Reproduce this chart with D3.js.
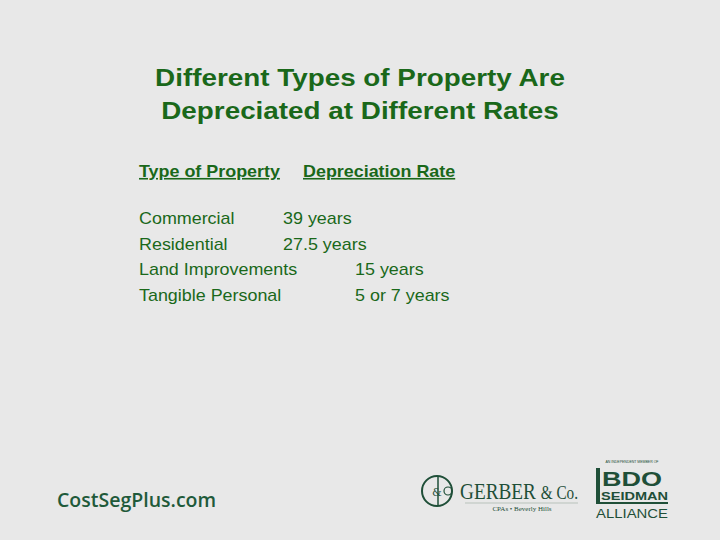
<!DOCTYPE html>
<html>
<head>
<meta charset="utf-8">
<script src="https://cdn.jsdelivr.net/npm/d3@7"></script>
<style>
  body { margin: 0; background: #e8e8e8; }
</style>
</head>
<body>
<svg id="slide" width="720" height="540"></svg>
<script>
/*
 * Data
 */
var titleLines = ['Different Types of Property Are', 'Depreciated at Different Rates'],
    headers = ['Type of Property', 'Depreciation Rate'],
    propertyTypes = ['Commercial', 'Residential', 'Land Improvements', 'Tangible Personal'],
    rates = ['39 years', '27.5 years', '15 years', '5 or 7 years'],
    rateColumn = [0, 0, 1, 1];   // which tab stop the rate sits on

var GREEN = '#1a681a',
    DARK = '#1f4f38',
    FONT = '"Liberation Sans", Arial, sans-serif',
    STRETCH = 1.12;   // slide text is drawn a little wider than the font

var svg = d3.select('#slide');

svg.append('rect').attr('width', 720).attr('height', 540).attr('fill', '#e8e8e8');

// title
var titleY = d3.scalePoint().domain(d3.range(titleLines.length)).range([86, 119]);
svg.selectAll('text.title')
    .data(titleLines)
    .enter().append('text')
    .attr('class', 'title')
    .attr('transform', function (d, i) { return 'translate(360,' + titleY(i) + ') scale(1.16,1)'; })
    .attr('text-anchor', 'middle')
    .attr('font-family', FONT)
    .attr('font-weight', 'bold')
    .attr('font-size', 24)
    .attr('fill', GREEN)
    .text(function (d) { return d; });

// headers
var headerX = d3.scaleOrdinal().domain(d3.range(headers.length)).range([139, 303]);
svg.selectAll('text.header')
    .data(headers)
    .enter().append('text')
    .attr('class', 'header')
    .attr('transform', function (d, i) { return 'translate(' + headerX(i) + ',177) scale(' + STRETCH + ',1)'; })
    .attr('font-family', FONT)
    .attr('font-weight', 'bold')
    .attr('font-size', 16)
    .attr('text-decoration', 'underline')
    .attr('fill', GREEN)
    .text(function (d) { return d; });

// rows
var rowY = d3.scalePoint().domain(propertyTypes).range([224, 301]);
var rateX = d3.scaleOrdinal().domain([0, 1]).range([283, 355]);

svg.selectAll('text.type')
    .data(propertyTypes)
    .enter().append('text')
    .attr('class', 'type')
    .attr('transform', function (d) { return 'translate(139,' + rowY(d) + ') scale(' + STRETCH + ',1)'; })
    .attr('font-family', FONT)
    .attr('font-size', 16)
    .attr('fill', GREEN)
    .text(function (d) { return d; });

svg.selectAll('text.rate')
    .data(rates)
    .enter().append('text')
    .attr('class', 'rate')
    .attr('transform', function (d, i) {
        return 'translate(' + rateX(rateColumn[i]) + ',' + rowY(propertyTypes[i]) + ') scale(' + STRETCH + ',1)';
    })
    .attr('font-family', FONT)
    .attr('font-size', 16)
    .attr('fill', GREEN)
    .text(function (d) { return d; });

/*
 * Footer
 */
svg.append('text')
    .attr('x', 57).attr('y', 507)
    .attr('font-family', '"Open Sans", sans-serif')
    .attr('font-weight', 600)
    .attr('font-size', 19.5)
    .attr('fill', '#1f5a3a')
    .text('CostSegPlus.com');

// Gerber logo
var g = svg.append('g').attr('fill', DARK);
g.append('circle').attr('cx', 437).attr('cy', 491).attr('r', 15)
    .attr('fill', 'none').attr('stroke', DARK).attr('stroke-width', 2);
g.append('line').attr('x1', 438).attr('x2', 438).attr('y1', 476).attr('y2', 506)
    .attr('stroke', DARK).attr('stroke-width', 1.5);
g.append('text').attr('x', 432).attr('y', 496).attr('font-size', 11)
    .attr('font-family', '"DejaVu Serif", serif').text('&');
g.append('circle').attr('cx', 448).attr('cy', 491).attr('r', 4)
    .attr('fill', 'none').attr('stroke', DARK).attr('stroke-width', 1.2);
var gName = g.append('text').attr('x', 460).attr('y', 499)
    .attr('font-family', '"Liberation Serif", serif').attr('font-size', 24)
    .attr('textLength', 118).attr('lengthAdjust', 'spacingAndGlyphs');
gName.append('tspan').text('GERBER ');
gName.append('tspan').attr('font-size', 19).text('& Co.');
g.append('line').attr('x1', 465).attr('x2', 578).attr('y1', 503).attr('y2', 503)
    .attr('stroke', '#b8c2bb').attr('stroke-width', 1);
g.append('text').attr('x', 522).attr('y', 511).attr('text-anchor', 'middle')
    .attr('font-family', '"Liberation Serif", serif').attr('font-size', 7)
    .text('CPAs \u2022 Beverly Hills');

// BDO logo
var b = svg.append('g').attr('fill', DARK);
b.append('text').attr('x', 632).attr('y', 463).attr('text-anchor', 'middle')
    .attr('font-size', 3.5).attr('font-family', FONT).text('AN INDEPENDENT MEMBER OF');
b.append('rect').attr('x', 596).attr('y', 468).attr('width', 4).attr('height', 36);
b.append('rect').attr('x', 596).attr('y', 502).attr('width', 72).attr('height', 2);
b.append('text').attr('x', 602).attr('y', 486)
    .attr('font-family', FONT).attr('font-weight', 'bold').attr('font-size', 21)
    .attr('textLength', 60).attr('lengthAdjust', 'spacingAndGlyphs').text('BDO');
b.append('text').attr('x', 601).attr('y', 500)
    .attr('font-family', FONT).attr('font-weight', 'bold').attr('font-size', 11)
    .attr('textLength', 67).attr('lengthAdjust', 'spacingAndGlyphs').text('SEIDMAN');
b.append('text').attr('x', 596).attr('y', 518)
    .attr('font-family', FONT).attr('font-size', 12)
    .attr('textLength', 72).attr('lengthAdjust', 'spacingAndGlyphs').text('ALLIANCE');
</script>
</body>
</html>
